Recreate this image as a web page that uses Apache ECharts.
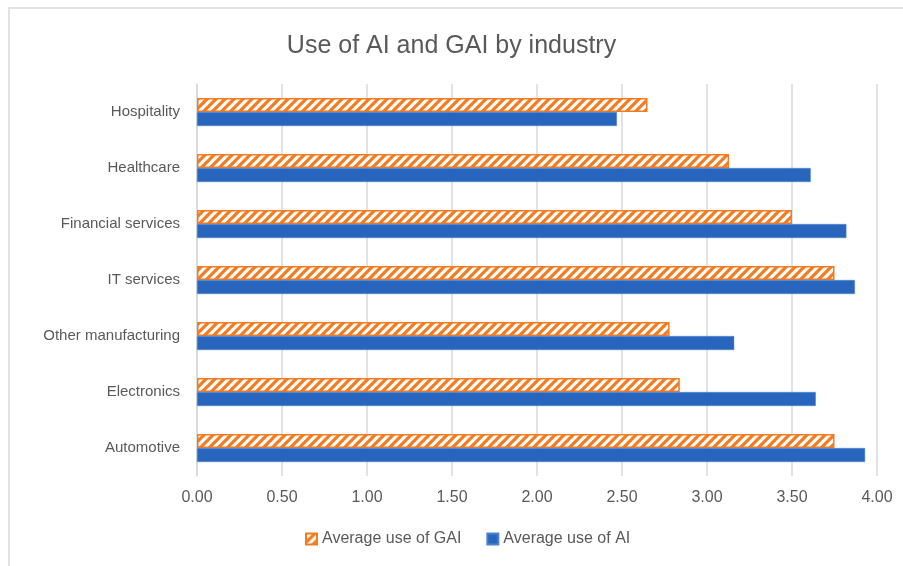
<!DOCTYPE html>
<html><head><meta charset="utf-8">
<script src="https://cdn.jsdelivr.net/npm/echarts@6/dist/echarts.min.js"></script>
<style>html,body{margin:0;padding:0;background:#fff}#c{width:903px;height:566px}</style>
</head><body><div id="c"></div>
<script>
const categories = ['Automotive','Electronics','Other manufacturing','IT services','Financial services','Healthcare','Hospitality'];
const aiValues  = [3.93, 3.64, 3.16, 3.87, 3.82, 3.61, 2.47];
const gaiValues = [3.75, 2.84, 2.78, 3.75, 3.50, 3.13, 2.65];
const xTicks = ['0.00','0.50','1.00','1.50','2.00','2.50','3.00','3.50','4.00'];
const seriesNames = ['Average use of GAI','Average use of AI'];

const ORANGE = '#F47B20', BLUE = '#2866BD';
const pc = document.createElement('canvas');
pc.width = 9; pc.height = 9;
const g = pc.getContext('2d');
g.fillStyle = '#fff'; g.fillRect(0,0,9,9);
g.strokeStyle = ORANGE; g.lineWidth = 3.2;
g.beginPath();
g.moveTo(-2,11); g.lineTo(11,-2);
g.moveTo(-11,11); g.lineTo(2,-2);
g.moveTo(7,11); g.lineTo(20,-2);
g.stroke();

const FONT = "'Liberation Sans', Arial, sans-serif";
const chart = echarts.init(document.getElementById('c'), null, {renderer:'canvas'});
chart.setOption({
  backgroundColor:'#fff',
  animation:false,
  textStyle:{fontFamily:FONT},
  graphic:[{type:'rect', shape:{x:9,y:8,width:1000,height:1000}, style:{fill:'none', stroke:'#d9d9d9', lineWidth:1.5}, silent:true}],
  title:{text:'Use of AI and GAI by industry', left:'center', top:29, textStyle:{fontFamily:FONT, fontSize:25, fontWeight:'normal', color:'#595959'}},
  grid:{left:197, right:26, top:84, bottom:90},
  legend:{data:seriesNames, bottom:14, left:300, itemWidth:11, itemHeight:11, itemGap:25, icon:'rect',
    textStyle:{fontFamily:FONT, fontSize:16, color:'#595959'}},
  xAxis:{type:'value', min:0, max:4, interval:0.5,
    axisLabel:{formatter:(v)=>xTicks[Math.round(v/0.5)], fontFamily:FONT, fontSize:16, color:'#595959', margin:14},
    axisLine:{show:false}, axisTick:{show:false},
    splitLine:{lineStyle:{color:'#d9d9d9', width:1.5}}},
  yAxis:{type:'category', data:categories,
    axisLabel:{fontFamily:FONT, fontSize:15, color:'#595959', margin:17},
    axisLine:{lineStyle:{color:'#d9d9d9', width:1.5}}, axisTick:{show:false}},
  series:[
    {name:seriesNames[0], type:'bar', data:gaiValues, barWidth:14, barGap:'0%',
      itemStyle:{color:{image:pc, repeat:'repeat'}, borderColor:ORANGE, borderWidth:1.5}},
    {name:seriesNames[1], type:'bar', data:aiValues, barWidth:14, barGap:'0%',
      itemStyle:{color:BLUE, borderColor:'#4a82d0', borderWidth:0.5}}
  ]
});
</script></body></html>
